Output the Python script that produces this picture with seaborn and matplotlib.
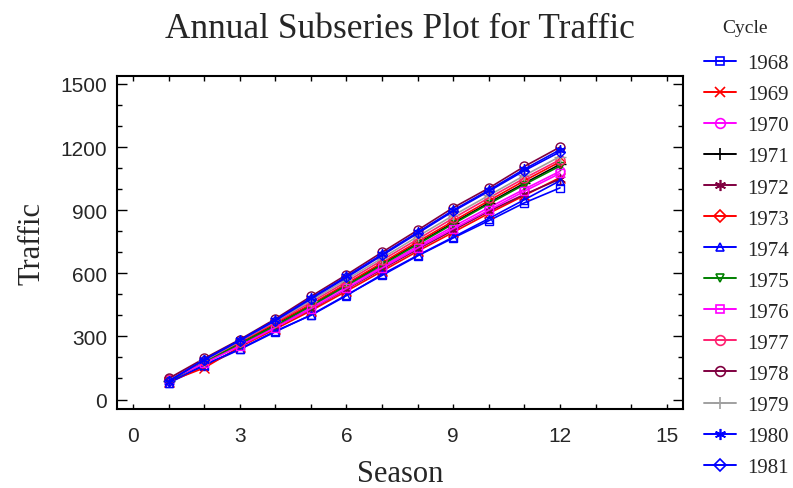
import matplotlib
matplotlib.use("Agg")
import matplotlib.pyplot as plt
from matplotlib.ticker import MultipleLocator, FixedLocator
from matplotlib.lines import Line2D
import seaborn as sns
import pandas as pd

seasons = [1, 2, 3, 4, 5, 6, 7, 8, 9, 10, 11, 12]
cycles = ["1968", "1969", "1970", "1971", "1972", "1973", "1974",
          "1975", "1976", "1977", "1978", "1979", "1980", "1981"]

v1968 = [78, 160, 238, 322, 402, 497, 590, 683, 768, 850, 935, 1006]
v1969 = [85, 150, 250, 335, 422, 515, 610, 705, 795, 885, 970, 1055]
v1970 = [95, 178, 262, 350, 440, 538, 632, 728, 822, 912, 1000, 1085]
v1971 = [88, 180, 268, 355, 448, 545, 645, 742, 840, 935, 1028, 1118]
v1972 = [90, 175, 258, 345, 430, 525, 620, 715, 805, 895, 975, 1048]
v1973 = [92, 182, 272, 362, 452, 550, 650, 750, 848, 945, 1040, 1130]
v1974 = [80, 165, 240, 325, 400, 494, 595, 685, 772, 860, 950, 1040]
v1975 = [87, 178, 265, 352, 445, 542, 640, 738, 835, 930, 1022, 1110]
v1976 = [93, 172, 255, 342, 432, 528, 625, 720, 812, 900, 990, 1075]
v1977 = [98, 185, 275, 368, 462, 560, 662, 762, 862, 958, 1052, 1140]
v1978 = [100, 195, 285, 383, 490, 593, 700, 805, 912, 1005, 1108, 1200]
v1979 = [90, 185, 278, 372, 470, 570, 672, 775, 875, 970, 1065, 1155]
v1980 = [85, 190, 282, 378, 482, 585, 690, 795, 900, 995, 1095, 1187]
v1981 = [88, 188, 280, 375, 478, 580, 685, 790, 895, 990, 1088, 1177]

values = [v1968, v1969, v1970, v1971, v1972, v1973, v1974, v1975,
          v1976, v1977, v1978, v1979, v1980, v1981]

colors = ["#0000ff", "#ff0000", "#ff00ff", "#000000", "#800040", "#ff0000",
          "#0000ff", "#008000", "#ff00ff", "#ff2070", "#800040", "#a0a0a0",
          "#0000ff", "#0000ff"]
markers = ["s", "x", "o", "+", (6, 2, 0), "D", "^", "v", "s", "o", "o",
           "+", (6, 2, 0), "D"]
msizes = [6, 7, 7, 9, 8, 6, 6, 6, 6, 7, 7, 9, 8, 6]

sns.set_theme(style="white")
plt.rcParams['font.family'] = ['Liberation Serif', 'DejaVu Serif']

fig = plt.figure(figsize=(7.93, 4.89), dpi=100)
ax = fig.add_axes([0.1475, 0.1616, 0.7135, 0.681])

handles = []
for cyc, vals, c, m, ms in zip(cycles, values, colors, markers, msizes):
    df = pd.DataFrame({"Season": seasons, "Traffic": vals})
    sns.lineplot(data=df, x="Season", y="Traffic", ax=ax, color=c,
                 marker=m, markersize=ms - 0.5, markerfacecolor="none",
                 markeredgecolor=c, markeredgewidth=1.0, linewidth=1.2,
                 legend=False)
    handles.append(Line2D([0], [0], color=c, marker=m, markersize=ms,
                          markerfacecolor="none", markeredgecolor=c,
                          markeredgewidth=1.2, linewidth=1.4, label=cyc))

ax.set_xlim(-0.45, 15.45)
ax.set_ylim(-45, 1538)
ax.xaxis.set_major_locator(FixedLocator([0, 3, 6, 9, 12, 15]))
ax.xaxis.set_minor_locator(MultipleLocator(1))
ax.yaxis.set_major_locator(FixedLocator([0, 300, 600, 900, 1200, 1500]))
ax.yaxis.set_minor_locator(MultipleLocator(100))

ax.tick_params(which="both", direction="in", top=True, right=True,
               bottom=True, left=True, color="black", width=1.0)
ax.tick_params(axis="y", which="major", length=7)
ax.tick_params(axis="y", which="minor", length=3.5)
ax.tick_params(axis="x", which="both", length=3.5)
ax.tick_params(axis="both", which="major", labelsize=15)
ax.tick_params(axis="y", which="major", pad=7)
ax.tick_params(axis="x", which="major", pad=12)
for lab in ax.get_xticklabels() + ax.get_yticklabels():
    lab.set_fontfamily("Liberation Sans")

for sp in ax.spines.values():
    sp.set_color("black")
    sp.set_linewidth(1.5)

ax.set_xlabel("Season", fontsize=22, labelpad=10)
ax.set_ylabel("Traffic", fontsize=22, labelpad=10)
fig.text(0.504, 0.94, "Annual Subseries Plot for Traffic", fontsize=25.5,
         ha="center", va="center")

fig.text(0.940, 0.942, "Cycle", fontsize=14, ha="center", va="center")
leg = fig.legend(handles=handles, loc="upper left",
                 bbox_to_anchor=(0.877, 0.905), frameon=False,
                 fontsize=15, handlelength=1.55, labelspacing=0.55,
                 handletextpad=0.55, borderaxespad=0.0)

fig.savefig("out.png", dpi=100)
